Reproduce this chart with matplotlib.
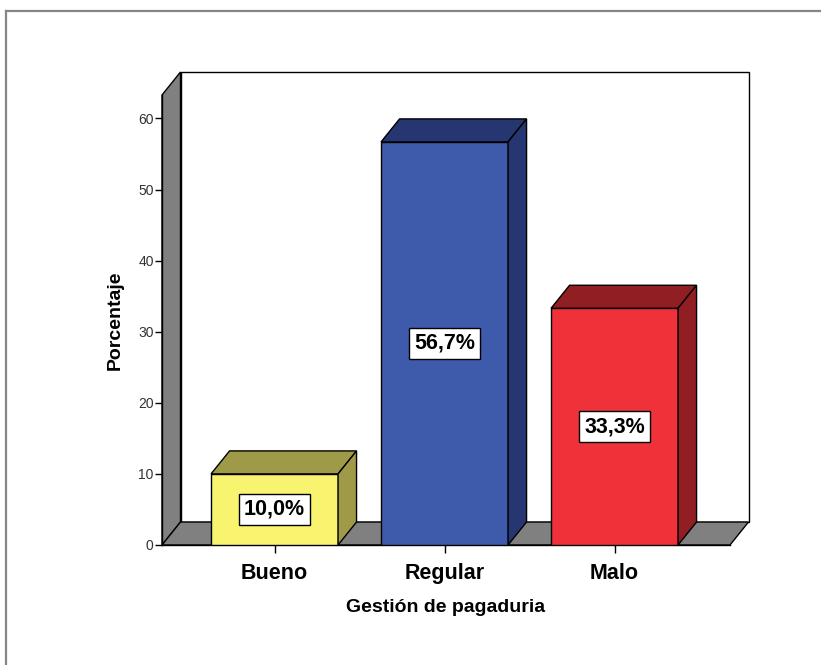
import numpy as np
import matplotlib.pyplot as plt
from matplotlib.patches import Polygon, Rectangle
from matplotlib.lines import Line2D

plt.rcParams['font.family'] = ['Liberation Sans', 'DejaVu Sans']

categories = ['Bueno', 'Regular', 'Malo']
percentages = [10.0, 56.7, 33.3]
front_colors = ['#f8f46f', '#3d5aab', '#ef323a']
shade_colors = ['#9f9a48', '#263670', '#911e22']
wall_color = '#808080'

W, H = 821, 665
fig = plt.figure(figsize=(W / 100, H / 100), dpi=100)
fig.patch.set_facecolor('white')

# front plane of the 3D box, in figure pixels
left_px, bottom_px, width_px, height_px = 162, 120, 568, 450
ax = fig.add_axes([left_px / W, bottom_px / H, width_px / W, height_px / H])

xmin, xmax = -0.662, 2.679
ymin, ymax = 0, 63.3
ax.set_xlim(xmin, xmax)
ax.set_ylim(ymin, ymax)

# depth offset of the extrusion, given in pixels and converted to data units
depth_dx_px, depth_dy_px = 18.5, 23
dx = depth_dx_px * (xmax - xmin) / width_px
dy = depth_dy_px * (ymax - ymin) / height_px

edge_kw = dict(edgecolor='black', linewidth=1.0, clip_on=False)

# back wall, left wall and floor
ax.add_patch(Rectangle((xmin + dx, ymin + dy), xmax - xmin, ymax - ymin,
                       facecolor='white', zorder=0, **edge_kw))
ax.add_patch(Polygon([(xmin, ymin), (xmin, ymax), (xmin + dx, ymax + dy),
                      (xmin + dx, ymin + dy)], facecolor=wall_color, zorder=1, **edge_kw))
ax.add_patch(Polygon([(xmin, ymin), (xmax, ymin), (xmax + dx, ymin + dy),
                      (xmin + dx, ymin + dy)], facecolor=wall_color, zorder=1, **edge_kw))

x = np.arange(len(categories))
bar_w = 0.747
ax.bar(x, percentages, width=bar_w, color=front_colors, edgecolor='black',
       linewidth=1.0, zorder=3)

for xi, v, shade in zip(x, percentages, shade_colors):
    x0, x1 = xi - bar_w / 2, xi + bar_w / 2
    top = Polygon([(x0, v), (x1, v), (x1 + dx, v + dy), (x0 + dx, v + dy)],
                  facecolor=shade, zorder=3, **edge_kw)
    side = Polygon([(x1, 0), (x1, v), (x1 + dx, v + dy), (x1 + dx, dy)],
                   facecolor=shade, zorder=3, **edge_kw)
    ax.add_patch(top)
    ax.add_patch(side)
    label = f'{v:.1f}%'.replace('.', ',')
    ax.text(xi, v / 2, label, ha='center', va='center', fontsize=15.5,
            fontweight='bold', color='black', zorder=5,
            bbox=dict(boxstyle='square,pad=0.22', facecolor='white',
                      edgecolor='black', linewidth=1.0))

for side_name in ['top', 'right']:
    ax.spines[side_name].set_visible(False)
for side_name in ['left', 'bottom']:
    ax.spines[side_name].set_color('black')
    ax.spines[side_name].set_linewidth(1.0)
    ax.spines[side_name].set_zorder(2)

ax.set_yticks([0, 10, 20, 30, 40, 50, 60])
ax.set_xticks(x)
ax.set_xticklabels(categories, fontsize=15.5, fontweight='bold')
ax.tick_params(axis='y', direction='out', length=5, width=1, labelsize=10,
               labelcolor='#333333', pad=1)
ax.tick_params(axis='x', direction='out', length=6, width=1, pad=7)

ax.set_xlabel('Gestión de pagaduria', fontsize=14, fontweight='bold', labelpad=11)
ax.set_ylabel('Porcentaje', fontsize=14, fontweight='bold', labelpad=10)
ax.patch.set_visible(False)

# outer chart frame (open on the right and bottom)
frame_kw = dict(color='#868686', linewidth=1.6, transform=fig.transFigure)
fig.add_artist(Line2D([5.5 / W, 1.0], [1 - 11 / H, 1 - 11 / H], **frame_kw))
fig.add_artist(Line2D([5.5 / W, 5.5 / W], [0.0, 1 - 11 / H], **frame_kw))

fig.savefig('out.png', dpi=100, facecolor='white')
